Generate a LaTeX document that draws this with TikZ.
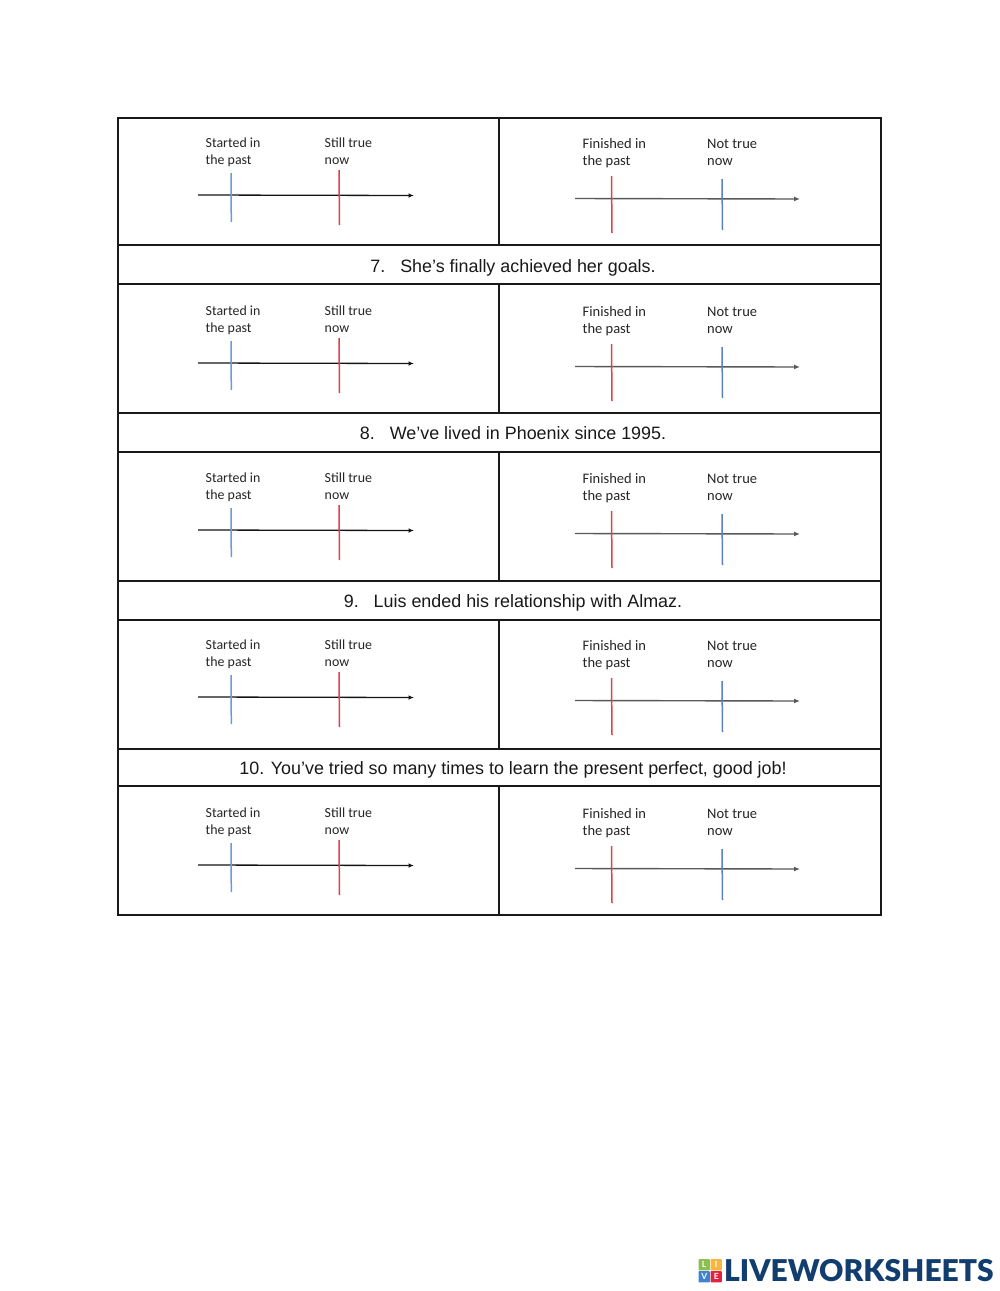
\documentclass[tikz,border=0pt]{standalone}
\usepackage{fontspec}
\setmainfont{Liberation Sans}
\newfontfamily\labelfont{Carlito}
\newfontfamily\logofont{Lato}
\usetikzlibrary{arrows.meta}
\definecolor{tickblue}{HTML}{6C9BD8}
\definecolor{tickred}{HTML}{E2404A}
\definecolor{logoblue}{HTML}{123E6F}
\definecolor{tilegreen}{HTML}{8CBF4F}
\definecolor{tileyellow}{HTML}{F7B53B}
\definecolor{tileblue}{HTML}{3F83D0}
\definecolor{tilered}{HTML}{DE2440}
\tikzset{
  x=1pt,y=-1pt,
  gridline/.style={line width=1.7pt,black!90,line cap=rect},
  labl/.style={font=\labelfont\fontsize{13.9}{15}\selectfont,anchor=base west,inner sep=0pt,text=black!85},
  labr/.style={font=\labelfont\fontsize{14.5}{15}\selectfont,anchor=base west,inner sep=0pt,text=black!85},
  sentence/.style={font=\fontsize{17.9}{20}\selectfont,anchor=base,inner sep=0pt,text=black!90},
  tick/.style={line width=1.5pt},
  axisl/.style={line width=1.3pt,black!92,-{Latex[length=5.5pt,width=4.5pt]}},
  axisr/.style={line width=1.4pt,black!65,-{Latex[length=6pt,width=5pt]}},
  tile/.style={minimum size=11.3pt,inner sep=0pt,text=white,font=\logofont\bfseries\fontsize{8.5}{9}\selectfont,rounded corners=0.8pt}
}
\begin{document}
\begin{tikzpicture}
\useasboundingbox[fill=white] (0,0) rectangle (1000,1291);
% grid
\draw[gridline] (118,118) rectangle (881,915);
\foreach \yy in {245,284,413,452,581,620,749,786}
  \draw[gridline] (118,\yy) -- (881,\yy);
\foreach \ya/\yb in {118/245,284/413,452/581,620/749,786/915}
  \draw[gridline] (499,\ya) -- (499,\yb);
% left cells
\foreach \n/\d in {a/0,b/168,c/335,d/502,e/670}{
  \node[labl] (sl\n) at (205.5,147.3+\d) {Started in};
  \node[labl] (pl\n) at (205.5,164.2+\d) {the past};
  \node[labl] (tl\n) at (324.5,147.3+\d) {Still true};
  \node[labl] (nl\n) at (324.5,164.2+\d) {now};
  \coordinate (as\n) at (198,195+\d);
  \coordinate (ae\n) at (414,195.5+\d);
  \coordinate (bt\n) at (231,173+\d);
  \coordinate (bb\n) at (231.3,222+\d);
  \coordinate (rt\n) at (339,170+\d);
  \coordinate (rb\n) at (339.5,225+\d);
  \draw[axisl] (as\n) -- (ae\n);
  \draw[tick,tickblue] (bt\n) -- (bb\n);
  \draw[tick,tickred] (rt\n) -- (rb\n);
}
% right cells
\foreach \n/\d in {a/0,b/168,c/335,d/502,e/670}{
  \node[labr] (fr\n) at (582.5,148+\d) {Finished in};
  \node[labr] (pr\n) at (582.5,165.7+\d) {the past};
  \node[labr] (tr\n) at (707,148+\d) {Not true};
  \node[labr] (nr\n) at (707,165.7+\d) {now};
  \coordinate (cs\n) at (575,198.5+\d);
  \coordinate (ce\n) at (800,199+\d);
  \coordinate (dt\n) at (611.5,176+\d);
  \coordinate (db\n) at (612,233+\d);
  \coordinate (et\n) at (722,179+\d);
  \coordinate (eb\n) at (722.5,230+\d);
  \draw[axisr] (cs\n) -- (ce\n);
  \draw[tick,tickred] (dt\n) -- (db\n);
  \draw[tick,tickblue!85!black] (et\n) -- (eb\n);
}
% sentences
\node[sentence] (s7) at (513,272) {7.\hspace{15pt}She’s finally achieved her goals.};
\node[sentence] (s8) at (513,439.5) {8.\hspace{15pt}We’ve lived in Phoenix since 1995.};
\node[sentence] (s9) at (513,607) {9.\hspace{15pt}Luis ended his relationship with Almaz.};
\node[sentence] (s10) at (513,774.5) {10. You’ve tried so many times to learn the present perfect, good job!};
% logo
\node[tile,fill=tilegreen] (tl) at (704.2,1264.7) {L};
\node[tile,fill=tileyellow] (ti) at (716.2,1264.7) {I};
\node[tile,fill=tileblue] (tv) at (704.2,1276.7) {V};
\node[tile,fill=tilered] (te) at (716.2,1276.7) {E};
\node[anchor=west,inner sep=0pt,text=logoblue] (logo) at (724,1270.5)
  {\logofont\fontspec{Lato Black}\fontsize{30}{32}\selectfont LIVEWORKSHEETS};
\end{tikzpicture}
\end{document}
